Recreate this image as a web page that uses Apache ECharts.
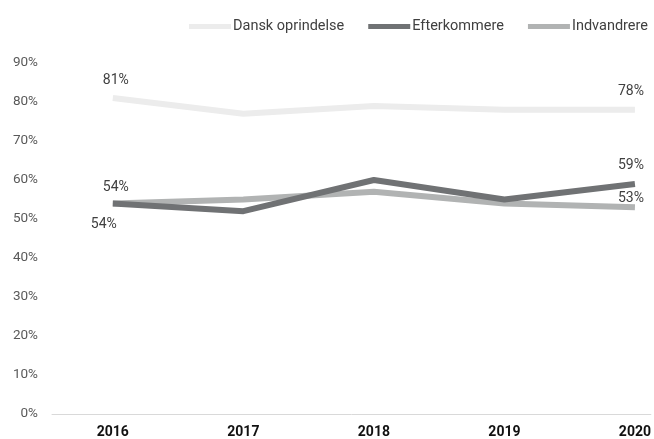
<!DOCTYPE html>
<html><head><meta charset="utf-8">
<script src="https://cdn.jsdelivr.net/npm/echarts@6/dist/echarts.min.js"></script>
<style>html,body{margin:0;padding:0;background:#fff}#c{width:654px;height:439px}</style>
</head><body><div id="c"></div>
<script>
const years = [2016, 2017, 2018, 2019, 2020];
const seriesNames = ['Dansk oprindelse', 'Efterkommere', 'Indvandrere'];
const danskOprindelse = [81, 77, 79, 78, 78];
const efterkommere = [54, 52, 60, 55, 59];
const indvandrere = [54, 55, 57, 54, 53];
const yTicks = [0, 10, 20, 30, 40, 50, 60, 70, 80, 90];

const colors = ['#ececec', '#707274', '#b1b3b3'];
const labelPos = [
  {first: {position: 'top', distance: 11, offset: [3, 0]}, last: {position: 'top', distance: 11, offset: [-4, 0]}},
  {first: {position: 'bottom', distance: 14, offset: [-9, 0]}, last: {position: 'top', distance: 11, offset: [-4, 0]}},
  {first: {position: 'top', distance: 9, offset: [3, 0]}, last: {position: 'top', distance: 2, offset: [-4, 0]}}
];
const allData = [danskOprindelse, efterkommere, indvandrere];

function build(vals, idx) {
  return vals.map((v, i) => {
    const item = {value: [years[i], v]};
    if (i === 0 || i === vals.length - 1) {
      const p = i === 0 ? labelPos[idx].first : labelPos[idx].last;
      item.label = {show: true, position: p.position, offset: p.offset, distance: p.distance,
        formatter: (d) => d.value[1] + '%', color: '#404040', fontSize: 14,
        fontFamily: 'Roboto'};
    }
    return item;
  });
}

const chart = echarts.init(document.getElementById('c'), null, {renderer: 'canvas'});
chart.setOption({
  animation: false,
  backgroundColor: '#fff',
  textStyle: {fontFamily: 'Roboto'},
  legend: {
    data: seriesNames, right: 1, top: 14, itemGap: 24, itemWidth: 42, itemHeight: 5,
    icon: 'rect',
    textStyle: {color: '#404040', fontSize: 14.5, fontFamily: 'Roboto', padding: [0, 0, 0, -3]}
  },
  grid: {left: 52, right: 1, top: 63, bottom: 23, containLabel: false},
  xAxis: {
    type: 'value', min: 2015.534, max: 2020.122,
    axisLine: {show: true, lineStyle: {color: '#d9d9d9', width: 1}},
    axisTick: {show: false},
    splitLine: {show: false},
    axisLabel: {customValues: years, formatter: (v) => String(v), color: '#111',
      fontWeight: 'bold', fontSize: 14, fontFamily: 'Roboto', margin: 11}
  },
  yAxis: {
    type: 'value', min: 0, max: 90, interval: 10,
    axisLine: {show: false}, axisTick: {show: false}, splitLine: {show: false},
    axisLabel: {customValues: yTicks, formatter: (v) => v + '%', color: '#595959', fontSize: 13.5, fontFamily: 'Roboto', margin: 14}
  },
  series: seriesNames.map((n, i) => ({
    name: n, type: 'line', data: build(allData[i], i),
    symbol: 'circle', symbolSize: 0.1, showSymbol: true,
    lineStyle: {color: colors[i], width: 6, cap: 'butt', join: 'round'},
    itemStyle: {color: colors[i]}, z: i === 1 ? 3 : (i === 2 ? 2 : 1)
  }))
});
</script></body></html>
